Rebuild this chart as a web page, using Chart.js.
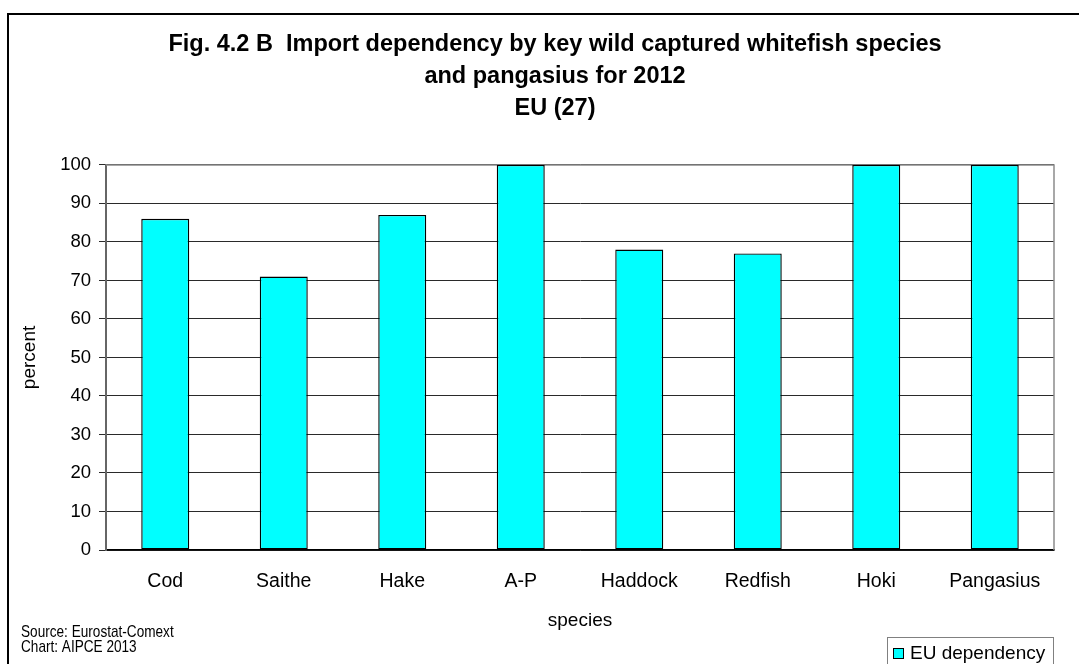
<!DOCTYPE html>
<html>
<head>
<meta charset="utf-8">
<title>Import dependency by species</title>
<script src="https://cdn.jsdelivr.net/npm/chart.js@4.4.0/dist/chart.umd.min.js"></script>
<style>
  html, body { margin: 0; padding: 0; background: #fff; }
  #wrap { position: relative; width: 1079px; height: 664px; }
</style>
</head>
<body>
<div id="wrap"><canvas id="depChart"></canvas></div>
<script>
// data
const species = ["Cod", "Saithe", "Hake", "A-P", "Haddock", "Redfish", "Hoki", "Pangasius"];
const dependency = [86, 71, 87, 100, 78, 77, 100, 100];
const seriesName = "EU dependency";
const yMin = 0;
const yMax = 100;
const yStep = 10;
const titleLines = [
  "Fig. 4.2 B  Import dependency by key wild captured whitefish species",
  "and pangasius for 2012",
  "EU (27)",
];
const sourceLines = ["Source: Eurostat-Comext", "Chart: AIPCE 2013"];

const FONT = '"Liberation Sans", Arial, sans-serif';

// plot border, outer frame, source note and legend box
const frame = {
  id: "frame",
  beforeDatasetsDraw(chart) {
    const { ctx, chartArea: a } = chart;
    ctx.save();
    ctx.strokeStyle = "#8c8c8c";
    ctx.lineWidth = 1.5;
    ctx.beginPath();
    ctx.moveTo(a.left, a.top);
    ctx.lineTo(a.right, a.top);
    ctx.lineTo(a.right, a.bottom);
    ctx.stroke();
    ctx.restore();
  },
  afterDraw(chart) {
    const { ctx, chartArea: a } = chart;
    ctx.save();

    // outer frame (runs off the right and bottom edge)
    ctx.strokeStyle = "#000";
    ctx.lineWidth = 2;
    ctx.strokeRect(8, 14, chart.width + 20, chart.height + 20);

    // source note, narrow type
    ctx.fillStyle = "#000";
    ctx.font = "17px " + FONT;
    ctx.textBaseline = "alphabetic";
    ctx.textAlign = "left";
    sourceLines.forEach((t, i) => {
      ctx.save();
      ctx.translate(21, 637 + i * 15);
      ctx.scale(0.8, 1);
      ctx.fillText(t, 0, 0);
      ctx.restore();
    });

    // legend
    const ds = chart.data.datasets[0];
    const lx = a.right - 167;
    const ly = 637;
    ctx.strokeStyle = "#808080";
    ctx.lineWidth = 1;
    ctx.strokeRect(lx + 0.5, ly + 0.5, 166, 40);
    ctx.fillStyle = ds.backgroundColor;
    ctx.fillRect(lx + 6, ly + 11, 11, 11);
    ctx.strokeStyle = "#000";
    ctx.strokeRect(lx + 6.5, ly + 11.5, 10, 10);
    ctx.fillStyle = "#000";
    ctx.font = "19px " + FONT;
    ctx.fillText(ds.label, lx + 23, ly + 22);

    ctx.restore();
  },
};

const ctx = document.getElementById("depChart");

new Chart(ctx, {
  type: "bar",
  data: {
    labels: species,
    datasets: [
      {
        label: seriesName,
        data: dependency,
        backgroundColor: "#00ffff",
        borderColor: "#000000",
        borderWidth: 1.4,
        borderSkipped: false,
        barPercentage: 0.405,
        categoryPercentage: 1,
      },
    ],
  },
  options: {
    responsive: true,
    maintainAspectRatio: false,
    animation: false,
    devicePixelRatio: 1,
    layout: {
      padding: { top: 0, left: 56, right: 25, bottom: 0 },
    },
    scales: {
      x: {
        grid: { display: false, drawTicks: false },
        border: { color: "#000", width: 1.5 },
        ticks: {
          color: "#000",
          font: { family: FONT, size: 19.5 },
          padding: 20,
          maxRotation: 0,
        },
        title: {
          display: true,
          text: "species",
          color: "#000",
          font: { family: FONT, size: 19 },
          padding: { top: 0, bottom: 31.6 },
        },
        afterFit(scale) {
          scale.height = 114;
        },
      },
      y: {
        min: yMin,
        max: yMax,
        grid: {
          color: "#2a2a2a",
          lineWidth: 1,
          tickLength: 7,
          tickColor: "#2a2a2a",
        },
        border: { color: "#666", width: 2 },
        ticks: {
          stepSize: yStep,
          color: "#000",
          font: { family: FONT, size: 18.5 },
          padding: 8,
        },
        title: {
          display: true,
          text: "percent",
          color: "#000",
          font: { family: FONT, size: 19 },
          padding: { top: -37.4, bottom: 0 },
        },
        afterFit(scale) {
          scale.width = 50;
        },
      },
    },
    plugins: {
      legend: { display: false },
      tooltip: { enabled: false },
      title: {
        display: true,
        text: titleLines,
        color: "#000",
        font: { family: FONT, size: 23.5, weight: "bold", lineHeight: 1.36 },
        padding: { top: 28.5, bottom: 40.5 },
      },
    },
  },
  plugins: [frame],
});
</script>
</body>
</html>
